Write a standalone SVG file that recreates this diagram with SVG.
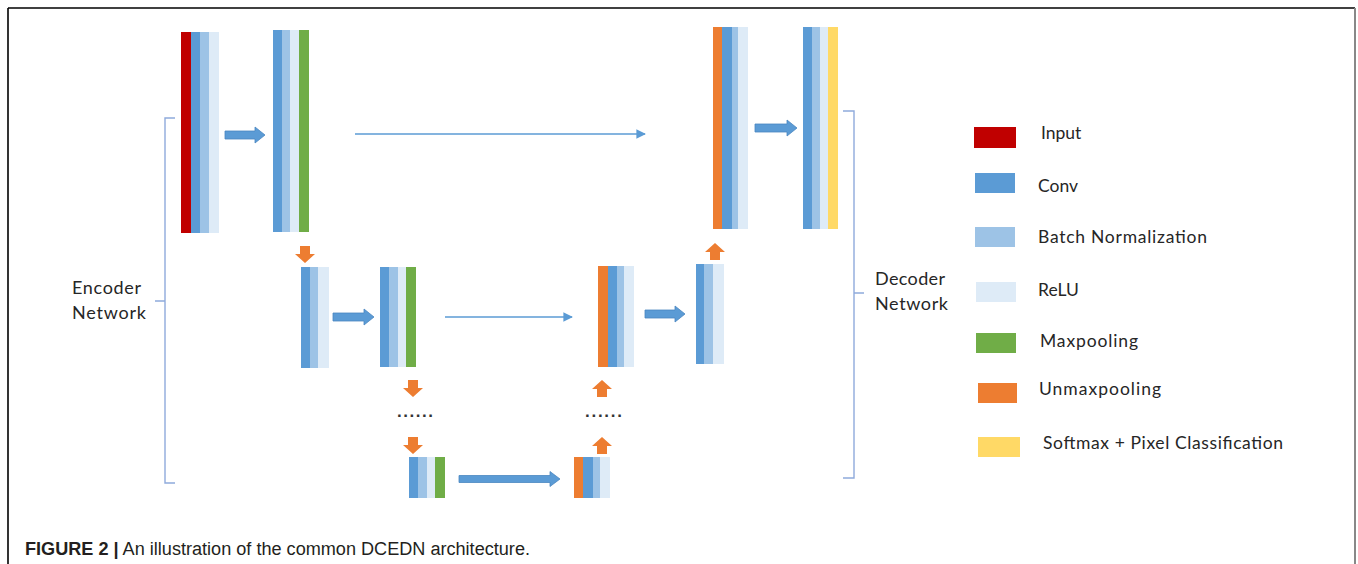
<svg xmlns="http://www.w3.org/2000/svg" width="1358" height="564" viewBox="0 0 1358 564">
<defs>
<style>
.cv{fill:#5B9BD5}.bn{fill:#9DC3E6}.re{fill:#DEEBF7}.in{fill:#C00000}.mp{fill:#70AD47}.um{fill:#ED7D31}.sm{fill:#FFD966}
.ba{fill:#5B9BD5;stroke:#4A86C0;stroke-width:0.8}
.oa{fill:#ED7D31}
.thin{stroke:#5B9BD5;stroke-width:1.6;fill:none}
.br{stroke:#8FAADC;stroke-width:1.4;fill:none}
.lbl{font-family:Lato,"Open Sans","Liberation Sans",sans-serif;font-size:18px;fill:#262626}
.lg{font-family:Lato,"Open Sans","Liberation Sans",sans-serif;font-size:17.5px;fill:#262626}
.dots{font-family:"Liberation Sans",sans-serif;font-size:17px;font-weight:bold;fill:#333}
.cap{font-family:"Liberation Sans",Arial,sans-serif;font-size:18px;fill:#231F20}
</style>
<marker id="ah" viewBox="0 0 10 10" refX="9" refY="5" markerWidth="6" markerHeight="6" orient="auto" markerUnits="strokeWidth">
<path d="M0,0 L10,5 L0,10 Z" fill="#5B9BD5"/>
</marker>
<path id="down" d="M-5,0 H5 V8 H10 L0,17 L-10,8 H-5 Z"/>
<path id="up" d="M-5,17 H5 V9 H10 L0,0 L-10,9 H-5 Z"/>
</defs>

<rect x="0" y="0" width="1358" height="564" fill="#fff"/>
<g id="frame">
<path d="M8,8 H1355" stroke="#000" stroke-width="1.6" fill="none"/>
<path d="M8,8 V564" stroke="#000" stroke-width="1.6" fill="none"/>
<path d="M1355,8 V564" stroke="#888" stroke-width="2" fill="none"/>
</g>

<g id="block1">
<rect class="in" x="181" y="32" width="10" height="201"/>
<rect class="cv" x="191" y="32" width="9" height="201"/>
<rect class="bn" x="200" y="32" width="9" height="201"/>
<rect class="re" x="209" y="32" width="10" height="201"/>
</g>
<g id="block2">
<rect class="cv" x="273" y="30" width="9" height="202"/>
<rect class="bn" x="282" y="30" width="8" height="202"/>
<rect class="re" x="290" y="30" width="9" height="202"/>
<rect class="mp" x="299" y="30" width="10" height="202"/>
</g>
<g id="block3">
<rect class="cv" x="301" y="267" width="9" height="101"/>
<rect class="bn" x="310" y="267" width="8" height="101"/>
<rect class="re" x="318" y="267" width="11" height="101"/>
</g>
<g id="block4">
<rect class="cv" x="380" y="267" width="9" height="100"/>
<rect class="bn" x="389" y="267" width="9" height="100"/>
<rect class="re" x="398" y="267" width="8" height="100"/>
<rect class="mp" x="406" y="267" width="10" height="100"/>
</g>
<g id="block5">
<rect class="cv" x="409" y="457" width="9" height="41"/>
<rect class="bn" x="418" y="457" width="9" height="41"/>
<rect class="re" x="427" y="457" width="8" height="41"/>
<rect class="mp" x="435" y="457" width="10" height="41"/>
</g>
<g id="block6">
<rect class="um" x="574" y="457" width="9" height="41"/>
<rect class="cv" x="583" y="457" width="10" height="41"/>
<rect class="bn" x="593" y="457" width="7" height="41"/>
<rect class="re" x="600" y="457" width="10" height="41"/>
</g>
<g id="block7">
<rect class="um" x="598" y="266" width="10" height="101"/>
<rect class="cv" x="608" y="266" width="9" height="101"/>
<rect class="bn" x="617" y="266" width="7" height="101"/>
<rect class="re" x="624" y="266" width="10" height="101"/>
</g>
<g id="block8">
<rect class="cv" x="696" y="264" width="8" height="100"/>
<rect class="bn" x="704" y="264" width="9" height="100"/>
<rect class="re" x="713" y="264" width="11" height="100"/>
</g>
<g id="block9">
<rect class="um" x="713" y="27" width="9" height="202"/>
<rect class="cv" x="722" y="27" width="10" height="202"/>
<rect class="bn" x="732" y="27" width="6" height="202"/>
<rect class="re" x="738" y="27" width="10" height="202"/>
</g>
<g id="block10">
<rect class="cv" x="803" y="27" width="9" height="202"/>
<rect class="bn" x="812" y="27" width="8" height="202"/>
<rect class="re" x="820" y="27" width="8" height="202"/>
<rect class="sm" x="828" y="27" width="10" height="202"/>
</g>

<g id="connectors">
<path class="ba" d="M225,131 H255 V127 L265,135 L255,143 V139 H225 Z"/>
<path class="ba" d="M333,313 H364 V309 L374,317 L364,325 V321 H333 Z"/>
<path class="ba" d="M459,475.5 H550 V471.5 L560,479 L550,486.5 V482.5 H459 Z"/>
<path class="ba" d="M645,310 H675 V306 L685,314 L675,322 V318 H645 Z"/>
<path class="ba" d="M755,124 H787 V120 L797,128 L787,136 V132 H755 Z"/>
<path class="thin" d="M355,134 H645" marker-end="url(#ah)"/>
<path class="thin" d="M445,317 H572" marker-end="url(#ah)"/>
<use href="#down" class="oa" transform="translate(305,246)"/>
<use href="#down" class="oa" transform="translate(413,380)"/>
<use href="#down" class="oa" transform="translate(413,437)"/>
<use href="#up" class="oa" transform="translate(602,380)"/>
<use href="#up" class="oa" transform="translate(602,437)"/>
<use href="#up" class="oa" transform="translate(715,243)"/>
</g>

<g id="dots">
<text class="dots" x="397" y="417" textLength="36">......</text>
<text class="dots" x="585" y="417" textLength="37">......</text>
</g>

<g id="encoder">
<path class="br" d="M175,118 H165 V483 H175 M155,301 H165"/>
<text class="lbl" x="72" y="294" textLength="69">Encoder</text>
<text class="lbl" x="72" y="319" textLength="74">Network</text>
</g>
<g id="decoder">
<path class="br" d="M843,111 H854 V478 H843 M854,293 H864"/>
<text class="lbl" x="875" y="285" textLength="70">Decoder</text>
<text class="lbl" x="875" y="310" textLength="73">Network</text>
</g>

<g id="legend">
<rect class="in" x="974" y="127" width="42" height="21"/>
<text class="lg" x="1041" y="139">Input</text>
<rect class="cv" x="975" y="173" width="40" height="20"/>
<text class="lg" x="1038" y="192">Conv</text>
<rect class="bn" x="975" y="227" width="40" height="20"/>
<text class="lg" x="1038" y="243" textLength="169">Batch Normalization</text>
<rect class="re" x="976" y="282" width="40" height="20"/>
<text class="lg" x="1038" y="296">ReLU</text>
<rect class="mp" x="976" y="333" width="40" height="20"/>
<text class="lg" x="1040" y="347" textLength="98">Maxpooling</text>
<rect class="um" x="978" y="383" width="39" height="20"/>
<text class="lg" x="1039" y="395" textLength="122">Unmaxpooling</text>
<rect class="sm" x="978" y="437" width="42" height="20"/>
<text class="lg" x="1043" y="449" textLength="240">Softmax + Pixel Classification</text>
</g>

<g id="caption">
<text class="cap" x="25" y="555" textLength="505" lengthAdjust="spacingAndGlyphs"><tspan font-weight="bold">FIGURE 2 |</tspan> An illustration of the common DCEDN architecture.</text>
</g>
</svg>
